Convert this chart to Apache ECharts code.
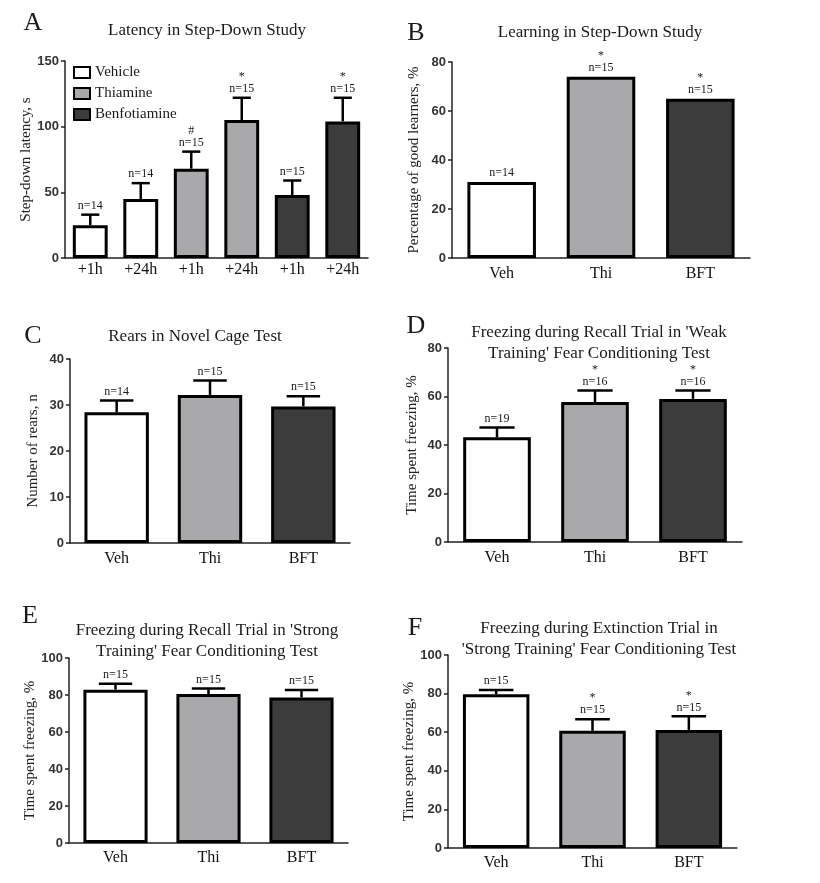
<!DOCTYPE html>
<html>
<head>
<meta charset="utf-8">
<script src="https://cdn.jsdelivr.net/npm/echarts@6/dist/echarts.min.js"></script>
<style>
  html, body { margin: 0; padding: 0; background: #fff; }
  #main { width: 820px; height: 883px; }
</style>
</head>
<body>
<div id="main"></div>
<script>
// groups and their fill colours
var groups = ['Vehicle', 'Thiamine', 'Benfotiamine'];
var fills = ['#ffffff', '#a9a9ab', '#3c3c3c'];
var shortCats = ['Veh', 'Thi', 'BFT'];

// A - latency in step-down study
var latencyCats = ['+1h', '+24h', '+1h', '+24h', '+1h', '+24h'];
var latencyGroup = [0, 0, 1, 1, 2, 2];
var latencyMean = [25, 45, 68, 105, 48, 104];
var latencySem = [8, 12, 13, 17, 11, 18];
var latencyN = ['n=14', 'n=14', 'n=15', 'n=15', 'n=15', 'n=15'];
var latencyMark = ['', '', '#', '*', '', '*'];

// B - learning (% good learners)
var learnMean = [31, 74, 65];
var learnN = ['n=14', 'n=15', 'n=15'];
var learnMark = ['', '*', '*'];

// C - rears in novel cage
var rearsMean = [28.4, 32.2, 29.7];
var rearsSem = [2.6, 3.1, 2.2];
var rearsN = ['n=14', 'n=15', 'n=15'];
var rearsMark = ['', '', ''];

// D - weak training recall
var weakMean = [43.2, 57.7, 59.0];
var weakSem = [4.0, 4.8, 3.5];
var weakN = ['n=19', 'n=16', 'n=16'];
var weakMark = ['', '*', '*'];

// E - strong training recall
var strongMean = [82.9, 80.5, 78.7];
var strongSem = [3.2, 3.0, 4.0];
var strongN = ['n=15', 'n=15', 'n=15'];
var strongMark = ['', '', ''];

// F - strong training extinction
var extMean = [79.7, 60.7, 61.2];
var extSem = [2.2, 6.0, 7.0];
var extN = ['n=15', 'n=15', 'n=15'];
var extMark = ['', '*', '*'];

var serif = '"Liberation Serif", "Times New Roman", serif';
var sans = '"Liberation Sans", Arial, sans-serif';
var BAR_W = 0.69;

var chart = echarts.init(document.getElementById('main'));

var panels = [
  { cats: latencyCats, grp: latencyGroup, mean: latencyMean, sem: latencySem, n: latencyN, mark: latencyMark,
    max: 150, step: 50, name: 'Step-down latency, s', gap: 29, lblMargin: 4,
    grid: { left: 65, top: 61, width: 303, height: 197 } },
  { cats: shortCats, grp: [0, 1, 2], mean: learnMean, sem: null, n: learnN, mark: learnMark,
    max: 80, step: 20, name: 'Percentage of good learners, %', gap: 30, lblMargin: 8,
    grid: { left: 452, top: 62, width: 298, height: 196 } },
  { cats: shortCats, grp: [0, 1, 2], mean: rearsMean, sem: rearsSem, n: rearsN, mark: rearsMark,
    max: 40, step: 10, name: 'Number of rears, n', gap: 29, lblMargin: 8,
    grid: { left: 70, top: 359, width: 280, height: 184 } },
  { cats: shortCats, grp: [0, 1, 2], mean: weakMean, sem: weakSem, n: weakN, mark: weakMark,
    max: 80, step: 20, name: 'Time spent freezing, %', gap: 28, lblMargin: 8,
    grid: { left: 448, top: 348, width: 294, height: 194 } },
  { cats: shortCats, grp: [0, 1, 2], mean: strongMean, sem: strongSem, n: strongN, mark: strongMark,
    max: 100, step: 20, name: 'Time spent freezing, %', gap: 30, lblMargin: 7,
    grid: { left: 69, top: 658, width: 279, height: 185 } },
  { cats: shortCats, grp: [0, 1, 2], mean: extMean, sem: extSem, n: extN, mark: extMark,
    max: 100, step: 20, name: 'Time spent freezing, %', gap: 26, lblMargin: 7,
    grid: { left: 448, top: 655, width: 289, height: 193 } }
];

function errRender(p) {
  return function (params, api) {
    var i = api.value(0);
    var hi = p.mean[i] + (p.sem ? p.sem[i] : 0);
    var base = api.coord([i, p.mean[i]]);
    var top = api.coord([i, hi]);
    var half = api.size([1, 0])[0] * BAR_W * 0.26;
    var kids = [];
    if (p.sem) {
      kids.push({ type: 'line', shape: { x1: base[0], y1: base[1], x2: top[0], y2: top[1] },
        style: { stroke: '#000', lineWidth: 2.5 } });
      kids.push({ type: 'line', shape: { x1: top[0] - half, y1: top[1], x2: top[0] + half, y2: top[1] },
        style: { stroke: '#000', lineWidth: 2.5 } });
    }
    kids.push({ type: 'text', style: {
      text: (p.mark[i] ? p.mark[i] + '\n' : '') + p.n[i],
      x: top[0], y: top[1] - 3, align: 'center', verticalAlign: 'bottom',
      font: '12px ' + serif, lineHeight: 12, fill: '#1a1a1a' } });
    return { type: 'group', children: kids };
  };
}

var grids = [], xAxes = [], yAxes = [], series = [];
panels.forEach(function (p, k) {
  grids.push(p.grid);
  xAxes.push({
    type: 'category', gridIndex: k, data: p.cats,
    axisLine: { lineStyle: { color: '#222', width: 1.5 } },
    axisTick: { alignWithLabel: true, length: 5, lineStyle: { color: '#222', width: 1.5 } },
    axisLabel: { margin: p.lblMargin, fontFamily: serif, fontSize: 16, color: '#111' }
  });
  yAxes.push({
    type: 'value', gridIndex: k, min: 0, max: p.max, interval: p.step,
    name: p.name, nameLocation: 'middle', nameGap: p.gap,
    nameTextStyle: { fontFamily: serif, fontSize: 15, color: '#222' },
    splitLine: { show: false },
    axisLine: { show: true, lineStyle: { color: '#222', width: 1.5 } },
    axisTick: { show: true, length: 4, lineStyle: { color: '#222', width: 1.5 } },
    axisLabel: { margin: 6, fontFamily: sans, fontWeight: 'bold', fontSize: 13, color: '#333' }
  });
  groups.forEach(function (g, gi) {
    series.push({
      name: g, type: 'bar', xAxisIndex: k, yAxisIndex: k,
      barWidth: (BAR_W * 100) + '%', barGap: '-100%',
      data: p.mean.map(function (v, i) { return p.grp[i] === gi ? v : null; }),
      itemStyle: { color: fills[gi], borderColor: '#000', borderWidth: 3 },
      silent: true, animation: false
    });
  });
  series.push({
    type: 'custom', xAxisIndex: k, yAxisIndex: k, z: 3, clip: false,
    data: p.mean.map(function (v, i) { return [i, v]; }),
    encode: { x: 0, y: 1 },
    renderItem: errRender(p), silent: true, animation: false
  });
});

function title(text, x, y, size, lh) {
  return { text: text, left: x, top: y, textAlign: 'center', padding: 0,
    textStyle: { fontFamily: serif, fontWeight: 'normal', fontSize: size, lineHeight: lh || size, color: '#1a1a1a' } };
}

var titles = [
  title('A', 33, 10, 26), title('B', 416, 20, 26), title('C', 33, 323, 26),
  title('D', 416, 313, 26), title('E', 30, 603, 26), title('F', 415, 615, 26),
  title('Latency in Step-Down Study', 207, 22, 17),
  title('Learning in Step-Down Study', 600, 24, 17),
  title('Rears in Novel Cage Test', 195, 328, 17),
  title("Freezing during Recall Trial in 'Weak\nTraining' Fear Conditioning Test", 599, 322, 17, 21),
  title("Freezing during Recall Trial in 'Strong\nTraining' Fear Conditioning Test", 207, 620, 17, 21),
  title("Freezing during Extinction Trial in\n'Strong Training' Fear Conditioning Test", 599, 618, 17, 21)
];

chart.setOption({
  backgroundColor: '#fff',
  animation: false,
  title: titles,
  legend: {
    data: groups, orient: 'vertical', left: 68, top: 60,
    icon: 'rect', itemWidth: 16, itemHeight: 11, itemGap: 6,
    itemStyle: { borderColor: '#000', borderWidth: 2 },
    textStyle: { fontFamily: serif, fontSize: 15, color: '#1a1a1a' },
    selectedMode: false
  },
  grid: grids,
  xAxis: xAxes,
  yAxis: yAxes,
  series: series
});
</script>
</body>
</html>
